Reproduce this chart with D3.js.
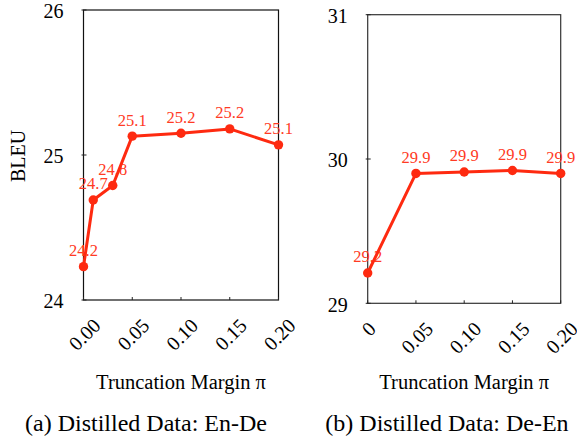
<!DOCTYPE html>
<html>
<head>
<meta charset="utf-8">
<script src="https://cdn.jsdelivr.net/npm/d3@7"></script>
<style>
  html, body { margin: 0; padding: 0; background: #fff; }
  text { font-family: "Liberation Serif", "Times New Roman", Times, "DejaVu Serif", serif; }
</style>
</head>
<body>
<svg id="chart" width="577" height="441"></svg>
<script>
'use strict';

// ── Data ───────────────────────────────────────────────────────
const enDeMargin = [0, 0.01, 0.03, 0.05, 0.10, 0.15, 0.20];
const enDeBleu   = [24.23, 24.69, 24.79, 25.13, 25.15, 25.18, 25.07];
const enDeText   = ['24.2', '24.7', '24.8', '25.1', '25.2', '25.2', '25.1'];

const deEnMargin = [0, 0.05, 0.10, 0.15, 0.20];
const deEnBleu   = [29.21, 29.90, 29.91, 29.92, 29.90];
const deEnText   = ['29.2', '29.9', '29.9', '29.9', '29.9'];

const xTicks       = [0, 0.05, 0.10, 0.15, 0.20];
const enDeXLabels  = ['0.00', '0.05', '0.10', '0.15', '0.20'];
const deEnXLabels  = ['0', '0.05', '0.10', '0.15', '0.20'];
const enDeYTicks   = [24, 25, 26];
const deEnYTicks   = [29, 30, 31];

const FONT      = '"Liberation Serif", "Times New Roman", Times, "DejaVu Serif", serif';
const RED       = '#fe2a10';
const LABEL_RED = '#ff3a24';

const svg = d3.select('#chart').attr('font-family', FONT);

function panel(opts) {
  const x = d3.scaleLinear().domain([0, 0.2]).range([opts.left, opts.right]);
  const y = d3.scaleLinear().domain(opts.yDomain).range([opts.bottom, opts.top]);
  const g = svg.append('g').attr('font-family', FONT);

  // frame
  g.append('rect')
    .attr('x', opts.left).attr('y', opts.top)
    .attr('width', opts.right - opts.left)
    .attr('height', opts.bottom - opts.top)
    .attr('fill', 'none')
    .attr('stroke', opts.frame)
    .attr('stroke-width', 1.2);

  // y ticks + labels
  opts.yTicks.forEach(v => {
    g.append('line')
      .attr('x1', opts.left - 2).attr('x2', opts.left + 3)
      .attr('y1', y(v)).attr('y2', y(v))
      .attr('stroke', '#222');
    g.append('text')
      .attr('x', opts.left - 20)
      .attr('y', y(v))
      .attr('dy', '0.42em')
      .attr('text-anchor', 'end')
      .attr('font-size', 20)
      .text(v);
  });

  // x ticks + rotated labels
  xTicks.forEach((v, i) => {
    g.append('line')
      .attr('x1', x(v)).attr('x2', x(v))
      .attr('y1', opts.bottom).attr('y2', opts.bottom - 3)
      .attr('stroke', '#222');
    const t = g.append('text')
      .attr('text-anchor', 'middle')
      .attr('dominant-baseline', 'central')
      .attr('font-size', 20)
      .text(opts.xLabels[i]);
    const w = t.node().getComputedTextLength();
    const half = (w + 14) * 0.7071 / 2;
    t.attr('transform', `translate(${x(v) + 1},${opts.bottom + 17 + half}) rotate(-45)`);
  });

  // value labels (under the line)
  g.selectAll('text.val')
    .data(opts.xs.map((d, i) => ({ x: d, y: opts.ys[i], t: opts.texts[i] })))
    .join('text')
      .attr('class', 'val')
      .attr('x', d => x(d.x))
      .attr('y', d => y(d.y) - 10.5)
      .attr('text-anchor', 'middle')
      .attr('font-size', 16.5)
      .attr('fill', LABEL_RED)
      .text(d => d.t);

  const pts = opts.xs.map((d, i) => [d, opts.ys[i]]);
  g.append('path')
    .datum(pts)
    .attr('fill', 'none')
    .attr('stroke', RED)
    .attr('stroke-width', 3)
    .attr('stroke-linejoin', 'round')
    .attr('d', d3.line().x(d => x(d[0])).y(d => y(d[1])));

  g.selectAll('circle')
    .data(pts)
    .join('circle')
      .attr('cx', d => x(d[0]))
      .attr('cy', d => y(d[1]))
      .attr('r', 4.7)
      .attr('fill', RED);

  // axis title + caption
  g.append('text')
    .attr('x', (opts.left + opts.right) / 2)
    .attr('y', 389)
    .attr('text-anchor', 'middle')
    .attr('font-size', 20.5)
    .text('Truncation Margin π');

  g.append('text')
    .attr('x', opts.captionX)
    .attr('y', 431)
    .attr('text-anchor', 'middle')
    .attr('font-size', 24)
    .text(opts.caption);
}

panel({
  left: 83.5, right: 278.5, top: 10, bottom: 300,
  yDomain: [24, 26], yTicks: enDeYTicks, xLabels: enDeXLabels,
  xs: enDeMargin, ys: enDeBleu, texts: enDeText,
  frame: '#111', captionX: 146, caption: '(a) Distilled Data: En-De'
});

panel({
  left: 367.7, right: 560.7, top: 14.7, bottom: 303.3,
  yDomain: [29, 31], yTicks: deEnYTicks, xLabels: deEnXLabels,
  xs: deEnMargin, ys: deEnBleu, texts: deEnText,
  frame: '#333', captionX: 447, caption: '(b) Distilled Data: De-En'
});

// y-axis title (left panel only)
svg.append('text')
  .attr('transform', 'translate(25,156) rotate(-90)')
  .attr('text-anchor', 'middle')
  .attr('font-size', 20)
  .text('BLEU');
</script>
</body>
</html>
